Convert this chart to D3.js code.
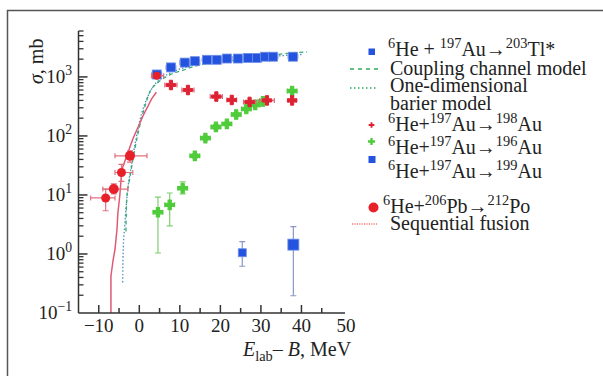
<!DOCTYPE html>
<html>
<head>
<meta charset="utf-8">
<script src="https://cdn.jsdelivr.net/npm/d3@7"></script>
<style>
  body { margin: 0; background: #fff; }
  svg { display: block; }
  text { font-family: "Liberation Serif", "Times New Roman", "DejaVu Serif", serif; fill: #222; }
</style>
</head>
<body>
<svg></svg>
<script>
// 6He + 197Au -> 203Tl* (fusion)
const fusionE = [4.3, 7.8, 11.2, 13.7, 16.7, 19.1, 21.6, 24.3, 26.8, 29.0, 31.0, 33.0, 37.9];
const fusionSigma = [1100, 1450, 1750, 1850, 1950, 1950, 2050, 2050, 2100, 2100, 2200, 2200, 2200];
const fusionErrE = [1.2, 1.2, 1.2, 1.2, 1.2, 1.2, 1.2, 1.2, 1.2, 1.2, 1.2, 1.2, 1.2];

// 6He + 197Au -> 198Au
const au198E = [7.8, 12.0, 19.0, 22.8, 27.2, 31.5, 37.7];
const au198Sigma = [730, 600, 465, 407, 377, 400, 400];
const au198ErrE = [1.5, 1.5, 1.5, 1.2, 1.5, 1.8, 1.0];

// 6He + 197Au -> 196Au
const au196E = [4.6, 7.5, 10.7, 13.7, 16.3, 18.9, 21.6, 23.9, 26.4, 28.6, 30.5, 37.7];
const au196Sigma = [5.1, 6.8, 13, 46, 92, 142, 160, 231, 286, 335, 385, 578];
const au196Lo = [1.04, 3.0, 10.4, 42, 85, 130, 150, 215, 270, 315, 365, 545];
const au196Hi = [9.2, 10.8, 16.6, 50, 100, 155, 172, 248, 305, 355, 405, 610];

// 6He + 197Au -> 199Au
const au199E = [25.4, 38.0];
const au199Sigma = [1.05, 1.44];
const au199Lo = [0.62, 0.196];
const au199Hi = [1.62, 2.9];

// 6He + 206Pb -> 212Po
const pbE = [-8.3, -6.3, -4.4, -2.3, 4.3];
const pbSigma = [8.9, 12.6, 24, 46, 1050];
const pbELo = [-12.0, -9.0, -6.0, -6.0, 3.0];
const pbEHi = [-6.0, -2.8, -1.6, 1.9, 6.0];
const pbLo = [5.4, 10.4, 17, 36, 1000];
const pbHi = [12.6, 15.4, 33, 56, 1100];

// model curves
const ccE = [-3.3, -3.1, -2.3, -1.1, 0.1, 1.4, 2.6, 3.8, 5.1, 7.5, 10.5, 14.9, 22.3, 29.8, 35.2, 41.4];
const ccSigma = [2.4, 8.6, 20, 60, 148, 320, 560, 720, 860, 1080, 1280, 1600, 1860, 2100, 2450, 2650];
const odE = [-4.1, -4.0, -3.6, -3.0, -2.0, -0.8, 0.5, 2.0, 3.5, 5.5, 8, 12, 20, 30, 40];
const odSigma = [0.33, 1.0, 3, 10, 30, 90, 230, 450, 700, 950, 1200, 1500, 1850, 2150, 2400];
const seqE = [-7.0, -7.0, -6.5, -6.0, -5.5, -5.3, -4.8, -4.3, -1.6, 0.9, 3.0, 4.2];
const seqSigma = [0.1, 0.42, 0.76, 1.2, 2.65, 4.8, 10, 27, 89, 218, 422, 550];

// ticks
const xTicks = [-10, 0, 10, 20, 30, 40, 50];
const xMinorTicks = [-5, 5, 15, 25, 35, 45];
const yTicks = [0.1, 1, 10, 100, 1000];
const yExponents = ["\u22121", "0", "1", "2", "3"];

const width = 603;
const height = 376;

const svg = d3.select("svg").attr("width", width).attr("height", height);

// outer frame
svg.append("rect")
  .attr("x", 7.5).attr("y", 10.5)
  .attr("width", 700).attr("height", 500)
  .attr("fill", "none").attr("stroke", "#555").attr("stroke-width", 1.5);

const x = d3.scaleLinear().domain([-15, 50]).range([78.5, 342]);
const y = d3.scaleLog().domain([0.1, 6000]).range([313, 31]);

svg.append("clipPath").attr("id", "plot")
  .append("rect").attr("x", 78.5).attr("y", 28).attr("width", 270).attr("height", 286);

const plot = svg.append("g").attr("clip-path", "url(#plot)");

// text with superscripts / subscripts: parts = [[text, "sup"|"sub"|"i"|""] ...]
const richText = (g, parts, px, py, size, opts = {}) => {
  const t = g.append("text").attr("x", px).attr("y", py).attr("font-size", size);
  if (opts.anchor) t.attr("text-anchor", opts.anchor);
  if (opts.transform) t.attr("transform", opts.transform);
  let shift = 0;
  parts.forEach(([s, kind]) => {
    const sp = t.append("tspan").text(s);
    let target = 0;
    if (kind === "sup") { target = -size * 0.4; sp.attr("font-size", size * 0.72); }
    if (kind === "sub") { target = size * 0.25; sp.attr("font-size", size * 0.72); }
    if (kind === "i") sp.attr("font-style", "italic");
    sp.attr("dy", target - shift);
    shift = target;
  });
  return t;
};

// ---- model curves
const line = d3.line().x(d => x(d[0])).y(d => y(d[1])).curve(d3.curveMonotoneX);

plot.append("path")
  .attr("d", line(odE.map((e, i) => [e, odSigma[i]])))
  .attr("fill", "none").attr("stroke", "#4a8fc4").attr("stroke-width", 1.3)
  .attr("stroke-dasharray", "1.5,2");

plot.append("path")
  .attr("d", line(ccE.map((e, i) => [e, ccSigma[i]])))
  .attr("fill", "none").attr("stroke", "#3aa876").attr("stroke-width", 1.3)
  .attr("stroke-dasharray", "4,3");

plot.append("path")
  .attr("d", d3.line().x(d => x(d[0])).y(d => y(d[1]))(seqE.map((e, i) => [e, seqSigma[i]])))
  .attr("fill", "none").attr("stroke", "#e05a75").attr("stroke-width", 1.5);

// ---- error bar helpers
const hBar = (g, e0, e1, s, color) => {
  g.append("line").attr("x1", x(e0)).attr("x2", x(e1)).attr("y1", y(s)).attr("y2", y(s))
    .attr("stroke", color).attr("stroke-width", 1.2);
  [e0, e1].forEach(e => g.append("line").attr("x1", x(e)).attr("x2", x(e))
    .attr("y1", y(s) - 2.5).attr("y2", y(s) + 2.5).attr("stroke", color).attr("stroke-width", 1.2));
};
const vBar = (g, e, s0, s1, color) => {
  g.append("line").attr("x1", x(e)).attr("x2", x(e)).attr("y1", y(s0)).attr("y2", y(s1))
    .attr("stroke", color).attr("stroke-width", 1.2);
  [s0, s1].forEach(s => g.append("line").attr("x1", x(e) - 3).attr("x2", x(e) + 3)
    .attr("y1", y(s)).attr("y2", y(s)).attr("stroke", color).attr("stroke-width", 1.2));
};

// ---- fusion squares
fusionE.forEach((e, i) => hBar(plot, e - fusionErrE[i], e + fusionErrE[i], fusionSigma[i], "#8fa3d8"));
plot.selectAll(".fus").data(fusionE).enter().append("rect")
  .attr("x", d => x(d) - 4.5)
  .attr("y", (d, i) => y(fusionSigma[i]) - 4.5)
  .attr("width", 9).attr("height", 9)
  .attr("fill", "#2453e0").attr("stroke", "#6f8fe8").attr("stroke-width", 0.8);

// ---- 196Au (green)
au196E.forEach((e, i) => {
  vBar(plot, e, au196Lo[i], au196Hi[i], "#7ccf6e");
  hBar(plot, e - 1.2, e + 1.2, au196Sigma[i], "#7ccf6e");
});
const cross = d3.symbol().type(d3.symbolCross).size(50);
plot.selectAll(".a196").data(au196E).enter().append("path")
  .attr("d", cross)
  .attr("transform", (d, i) => `translate(${x(d)},${y(au196Sigma[i])})`)
  .attr("fill", "#4fcc3a").attr("stroke", "#4fcc3a").attr("stroke-width", 1.2)
  .attr("stroke-linejoin", "round");

// ---- 198Au (red)
au198E.forEach((e, i) => hBar(plot, e - au198ErrE[i], e + au198ErrE[i], au198Sigma[i], "#e06b7a"));
plot.selectAll(".a198").data(au198E).enter().append("path")
  .attr("d", cross)
  .attr("transform", (d, i) => `translate(${x(d)},${y(au198Sigma[i])})`)
  .attr("fill", "#dd2233").attr("stroke", "#dd2233").attr("stroke-width", 1)
  .attr("stroke-linejoin", "round");

// ---- 199Au (blue squares)
au199E.forEach((e, i) => vBar(plot, e, au199Lo[i], au199Hi[i], "#8b97c8"));
const sq199 = [8, 11];
plot.selectAll(".a199").data(au199E).enter().append("rect")
  .attr("x", (d, i) => x(d) - sq199[i] / 2)
  .attr("y", (d, i) => y(au199Sigma[i]) - sq199[i] / 2)
  .attr("width", (d, i) => sq199[i]).attr("height", (d, i) => sq199[i])
  .attr("fill", "#2453e0").attr("stroke", "#6f8fe8").attr("stroke-width", 0.8);

// ---- 6He + 206Pb (red circles)
pbE.forEach((e, i) => {
  hBar(plot, pbELo[i], pbEHi[i], pbSigma[i], "#e0707e");
  vBar(plot, e, pbLo[i], pbHi[i], "#e0707e");
});
const pbR = [4.5, 5, 4.5, 5, 4];
plot.selectAll(".pb").data(pbE).enter().append("circle")
  .attr("cx", d => x(d))
  .attr("cy", (d, i) => y(pbSigma[i]))
  .attr("r", (d, i) => pbR[i])
  .attr("fill", "#e8202a");

// ---- axes
const axisColor = "#333";
const xAxis = svg.append("g").attr("transform", "translate(0,313)");
xAxis.append("line").attr("x1", 78.5).attr("x2", 345).attr("stroke", axisColor).attr("stroke-width", 1.5);
xAxis.selectAll(".xt").data(xTicks.filter(v => v < 50)).enter().append("line")
  .attr("x1", d => x(d)).attr("x2", d => x(d)).attr("y1", 0).attr("y2", -8)
  .attr("stroke", axisColor).attr("stroke-width", 1.5);
xAxis.selectAll(".xm").data(xMinorTicks).enter().append("line")
  .attr("x1", d => x(d)).attr("x2", d => x(d)).attr("y1", 0).attr("y2", -5)
  .attr("stroke", axisColor).attr("stroke-width", 1.5);
xAxis.selectAll(".xl").data(xTicks).enter().append("text")
  .attr("x", d => x(d) + (d === 50 ? 4 : 0)).attr("y", 19)
  .attr("text-anchor", "middle").attr("font-size", 19)
  .text(d => d3.format("d")(d));

const yAxis = svg.append("g").attr("transform", "translate(78.5,0)");
yAxis.append("line").attr("y1", 313).attr("y2", 31).attr("stroke", axisColor).attr("stroke-width", 1.5);
const yMinor = [];
yTicks.forEach(t => { for (let k = 2; k <= 9; k++) if (t * k <= 6000) yMinor.push(t * k); });
yAxis.selectAll(".ym").data(yMinor).enter().append("line")
  .attr("x1", 0).attr("x2", 5).attr("y1", d => y(d)).attr("y2", d => y(d))
  .attr("stroke", axisColor).attr("stroke-width", 1.3);
yAxis.selectAll(".yt").data(yTicks.filter(t => t > 0.1)).enter().append("line")
  .attr("x1", 0).attr("x2", 9).attr("y1", d => y(d)).attr("y2", d => y(d))
  .attr("stroke", axisColor).attr("stroke-width", 1.5);
yTicks.forEach((t, i) => {
  richText(svg, [["10", ""], [yExponents[i], "sup"]], 72, y(t) + 6, 19, { anchor: "end" });
});

// axis titles
richText(svg, [["E", "i"], ["lab", "sub"], ["\u2013 ", ""], ["B", "i"], [", MeV", ""]], 243, 356, 20);
richText(svg, [["\u03c3", "i"], [", mb", ""]], 0, 0, 20, { transform: "translate(43,84) rotate(-90)" });

// ---- legend
const lg = svg.append("g");
const lx = 390;
lg.append("rect").attr("x", 368.5).attr("y", 48.5).attr("width", 6.5).attr("height", 6.5).attr("fill", "#2453e0");
richText(lg, [["6", "sup"], ["He + ", ""], ["197", "sup"], ["Au\u2192", ""], ["203", "sup"], ["Tl*", ""]], 388, 56, 20);

lg.append("line").attr("x1", 350).attr("x2", 378).attr("y1", 69).attr("y2", 69)
  .attr("stroke", "#2eaa5a").attr("stroke-width", 1.3).attr("stroke-dasharray", "4,4");
richText(lg, [["Coupling channel model", ""]], lx, 75, 20);

lg.append("line").attr("x1", 350).attr("x2", 378).attr("y1", 88).attr("y2", 88)
  .attr("stroke", "#2eaa5a").attr("stroke-width", 1.3).attr("stroke-dasharray", "1.5,2.5");
richText(lg, [["One-dimensional", ""]], lx, 92, 20);
richText(lg, [["barier model", ""]], lx, 110, 20);

lg.append("path").attr("d", d3.symbol().type(d3.symbolCross).size(18))
  .attr("transform", "translate(371.5,125)").attr("fill", "#dd2233");
richText(lg, [["6", "sup"], ["He+", ""], ["197", "sup"], ["Au\u2192", ""], ["198", "sup"], ["Au", ""]], 388, 131, 20);

lg.append("path").attr("d", d3.symbol().type(d3.symbolCross).size(28))
  .attr("transform", "translate(371.5,141.5)").attr("fill", "#4fcc3a");
richText(lg, [["6", "sup"], ["He+", ""], ["197", "sup"], ["Au\u2192", ""], ["196", "sup"], ["Au", ""]], 388, 154, 20);

lg.append("rect").attr("x", 368.5).attr("y", 156).attr("width", 7).attr("height", 7).attr("fill", "#2453e0");
richText(lg, [["6", "sup"], ["He+", ""], ["197", "sup"], ["Au\u2192", ""], ["199", "sup"], ["Au", ""]], 388, 178, 20);

lg.append("circle").attr("cx", 373.5).attr("cy", 207.5).attr("r", 5).attr("fill", "#e8202a");
richText(lg, [["6", "sup"], ["He+", ""], ["206", "sup"], ["Pb\u2192", ""], ["212", "sup"], ["Po", ""]], 383, 213, 20);

lg.append("line").attr("x1", 352).attr("x2", 377).attr("y1", 224).attr("y2", 224)
  .attr("stroke", "#ee3030").attr("stroke-width", 1.2).attr("stroke-dasharray", "1.2,1.2");
richText(lg, [["Sequential fusion", ""]], lx, 230, 20);
</script>
</body>
</html>
